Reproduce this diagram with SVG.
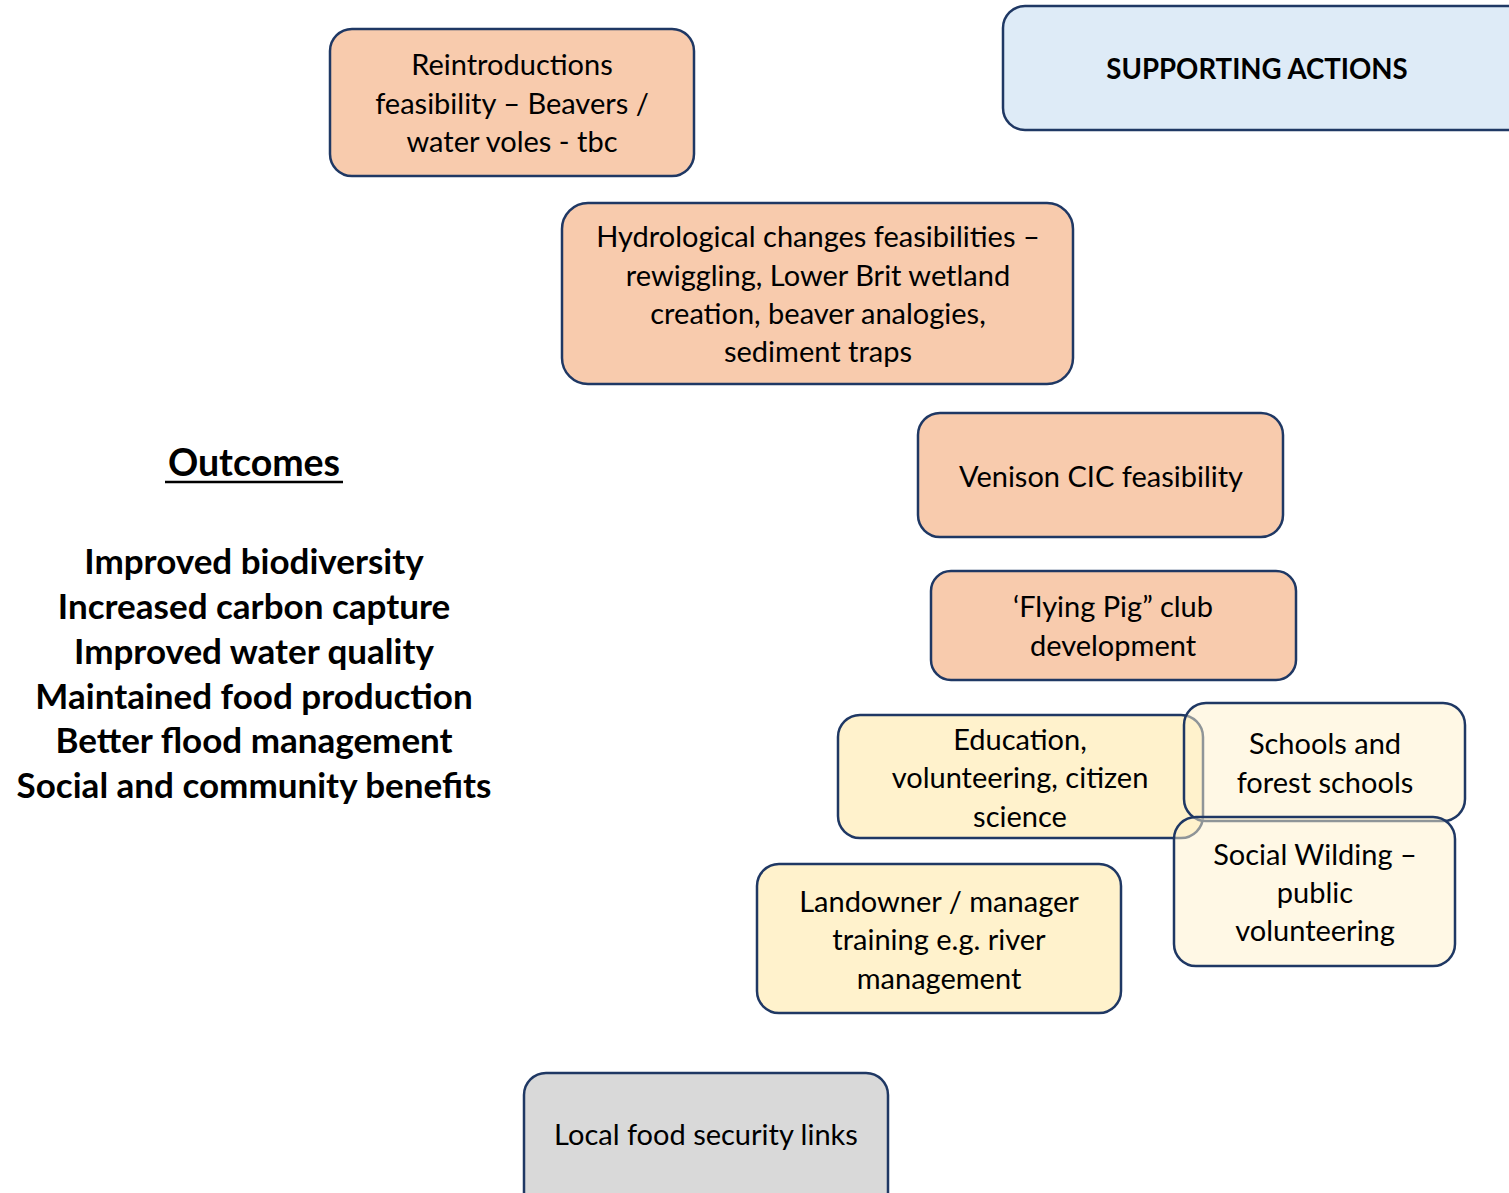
<svg xmlns="http://www.w3.org/2000/svg" width="1509" height="1193" viewBox="0 0 1509 1193">
<style>
.box{stroke:#1F3864;stroke-width:2.5}
.orange{fill:#F8CBAD}
.yellow{fill:#FFF2CC}
.pale{fill:#FFF2CC;fill-opacity:0.5}
.grey{fill:#D9D9D9}
.blue{fill:#DEEBF7}
.t{font-family:Lato,"Liberation Sans",sans-serif;font-size:29px;fill:#000;text-anchor:middle}
.b{font-family:Lato,"Liberation Sans",sans-serif;font-weight:bold;font-size:35px;fill:#000;text-anchor:middle}
.h{font-family:Lato,"Liberation Sans",sans-serif;font-weight:bold;font-size:27.6px;fill:#000;text-anchor:middle}
</style>
<rect width="1509" height="1193" fill="#fff"/>
<g id="supporting">
<rect class="box blue" x="1003" y="6" width="530" height="124" rx="22"/>
<text class="h" x="1257" y="79">SUPPORTING ACTIONS</text>
</g>
<g id="reintroductions">
<rect class="box orange" x="330" y="29" width="364" height="147" rx="22"/>
<text class="t" x="512" y="75">Reintroductions</text>
<text class="t" x="512" y="114">feasibility – Beavers /</text>
<text class="t" x="512" y="152">water voles - tbc</text>
</g>
<g id="hydrological">
<rect class="box orange" x="562" y="203" width="511" height="181" rx="26"/>
<text class="t" x="818" y="247">Hydrological changes feasibilities –</text>
<text class="t" x="818" y="286">rewiggling, Lower Brit wetland</text>
<text class="t" x="818" y="324">creation, beaver analogies,</text>
<text class="t" x="818" y="362">sediment traps</text>
</g>
<g id="outcomes">
<text class="b" x="254" y="476" style="font-size:37.5px">Outcomes</text>
<line x1="165" y1="482" x2="343" y2="482" stroke="#000" stroke-width="2.5"/>
<text class="b" x="254" y="574">Improved biodiversity</text>
<text class="b" x="254" y="619">Increased carbon capture</text>
<text class="b" x="254" y="664">Improved water quality</text>
<text class="b" x="254" y="709">Maintained food production</text>
<text class="b" x="254" y="753">Better flood management</text>
<text class="b" x="254" y="798">Social and community benefits</text>
</g>
<g id="venison">
<rect class="box orange" x="918" y="413" width="365" height="124" rx="22"/>
<text class="t" x="1101" y="487">Venison CIC feasibility</text>
</g>
<g id="flyingpig">
<rect class="box orange" x="931" y="571" width="365" height="109" rx="20"/>
<text class="t" x="1113" y="617">‘Flying Pig” club</text>
<text class="t" x="1113" y="656">development</text>
</g>
<g id="education">
<rect class="box yellow" x="838" y="715" width="365" height="123" rx="22"/>
<text class="t" x="1020" y="750">Education,</text>
<text class="t" x="1020" y="788">volunteering, citizen</text>
<text class="t" x="1020" y="827">science</text>
</g>
<g id="schools">
<rect class="box pale" x="1184" y="703" width="281" height="118" rx="22"/>
<text class="t" x="1325" y="754">Schools and</text>
<text class="t" x="1325" y="793">forest schools</text>
</g>
<g id="socialwilding">
<rect class="box pale" x="1174" y="817" width="281" height="149" rx="22"/>
<text class="t" x="1315" y="865">Social Wilding –</text>
<text class="t" x="1315" y="903">public</text>
<text class="t" x="1315" y="941">volunteering</text>
</g>
<g id="landowner">
<rect class="box yellow" x="757" y="864" width="364" height="149" rx="22"/>
<text class="t" x="939" y="912">Landowner / manager</text>
<text class="t" x="939" y="950">training e.g. river</text>
<text class="t" x="939" y="989">management</text>
</g>
<g id="localfood">
<rect class="box grey" x="524" y="1073" width="364" height="150" rx="22"/>
<text class="t" x="706" y="1145">Local food security links</text>
</g>
<g id="connectors"/>
</svg>
